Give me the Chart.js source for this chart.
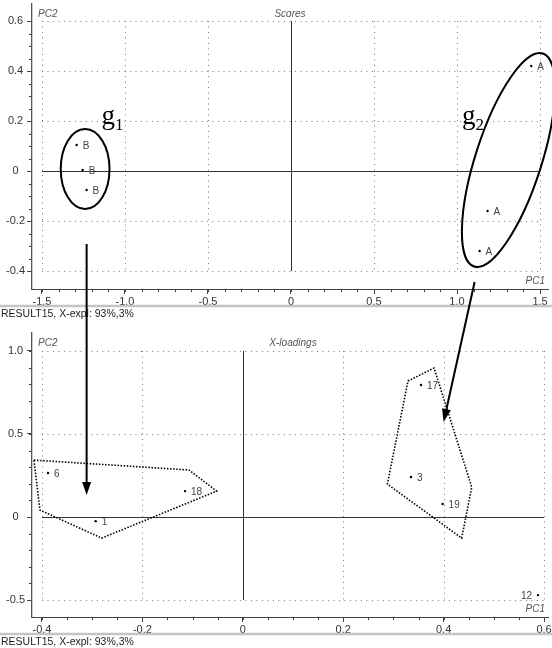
<!DOCTYPE html>
<html>
<head>
<meta charset="utf-8">
<script src="https://cdn.jsdelivr.net/npm/chart.js@4.4.0/dist/chart.umd.min.js"></script>
<style>
  body { margin: 0; background: #fff; }
  #wrap { position: relative; width: 552px; height: 648px; }
  #wrap canvas { position: absolute; left: 0; }
  #scores { top: 0; }
  #loadings { top: 320px; }
  #overlay { top: 0; pointer-events: none; }
</style>
</head>
<body>
<div id="wrap">
  <canvas id="scores" width="552" height="320"></canvas>
  <canvas id="loadings" width="552" height="328"></canvas>
  <canvas id="overlay" width="552" height="648"></canvas>
</div>
<script>
// scores plot
var scoreLabels = ["B", "B", "B", "A", "A", "A"];
var scorePC1 = [-1.291, -1.255, -1.231, 1.447, 1.184, 1.136];
var scorePC2 = [0.104, 0.004, -0.076, 0.42, -0.16, -0.32];
var scoreXTicks = [-1.5, -1.0, -0.5, 0, 0.5, 1.0, 1.5];
var scoreYTicks = [-0.4, -0.2, 0, 0.2, 0.4, 0.6];

// x-loadings plot
var loadLabels = ["6", "1", "18", "17", "3", "19", "12"];
var loadPC1 = [-0.388, -0.293, -0.115, 0.355, 0.335, 0.398, 0.588];
var loadPC2 = [0.265, -0.025, 0.156, 0.795, 0.241, 0.078, -0.47];
var loadXTicks = [-0.4, -0.2, 0, 0.2, 0.4, 0.6];
var loadYTicks = [-0.5, 0, 0.5, 1.0];

var footer = "RESULT15, X-expl: 93%,3%";

// annotations (data coordinates of the panel they belong to)
var group1 = { center: [-1.24, 0.008], end: [-1.24, 0.168], ratio: 0.61 };
var group2 = { center: [1.31, 0.044], end: [1.517, 0.47], ratio: 0.295 };
var hull1 = [[-0.416, 0.343], [-0.107, 0.283], [-0.052, 0.156], [-0.281, -0.127], [-0.404, 0.042]];
var hull2 = [[0.329, 0.819], [0.381, 0.897], [0.456, 0.18], [0.436, -0.127], [0.288, 0.198]];
var arrows = [
  { from: [-1.231, -0.292], to: [-0.311, 0.132] },
  { from: [1.106, -0.444], to: [0.4, 0.572] }
];

var FONT = "Liberation Sans, Arial, sans-serif";

function fmt(v) {
  return v === 0 ? "0" : v.toFixed(1);
}

var framePlugin = {
  id: "frame",
  beforeDatasetsDraw: function (chart, args, o) {
    var ctx = chart.ctx, sx = chart.scales.x, sy = chart.scales.y, a = chart.chartArea;
    var xl = sx.getPixelForValue(o.xTicks[0]), xr = sx.getPixelForValue(o.xTicks[o.xTicks.length - 1]);
    var yb = sy.getPixelForValue(o.yTicks[0]), yt = sy.getPixelForValue(o.yTicks[o.yTicks.length - 1]);
    ctx.save();
    ctx.lineWidth = 1;
    o.xTicks.forEach(function (v) {
      var p = Math.round(sx.getPixelForValue(v)) + 0.5;
      ctx.strokeStyle = v === 0 ? "#333" : "#777";
      ctx.setLineDash(v === 0 ? [] : [1, 4.5]);
      ctx.beginPath(); ctx.moveTo(p, yt); ctx.lineTo(p, yb); ctx.stroke();
    });
    o.yTicks.forEach(function (v) {
      var p = Math.round(sy.getPixelForValue(v)) + 0.5;
      ctx.strokeStyle = v === 0 ? "#333" : "#777";
      ctx.setLineDash(v === 0 ? [] : [1, 4.5]);
      ctx.beginPath(); ctx.moveTo(xl, p); ctx.lineTo(xr, p); ctx.stroke();
    });
    ctx.setLineDash([]);
    // minor ticks
    ctx.strokeStyle = "#444";
    var v, p;
    for (v = o.xTicks[0]; v <= o.xTicks[o.xTicks.length - 1] + 1e-9; v += o.minorX) {
      p = Math.round(sx.getPixelForValue(v)) + 0.5;
      ctx.beginPath(); ctx.moveTo(p, a.bottom); ctx.lineTo(p, a.bottom + 3); ctx.stroke();
    }
    for (v = o.yTicks[0]; v <= o.yTicks[o.yTicks.length - 1] + 1e-9; v += o.minorY) {
      p = Math.round(sy.getPixelForValue(v)) + 0.5;
      ctx.beginPath(); ctx.moveTo(a.left, p); ctx.lineTo(a.left - 3, p); ctx.stroke();
    }
    // footer
    ctx.strokeStyle = "#c4c4c4";
    ctx.lineWidth = 2.5;
    ctx.beginPath(); ctx.moveTo(0, a.bottom + 17); ctx.lineTo(chart.width, a.bottom + 17); ctx.stroke();
    ctx.fillStyle = "#222";
    ctx.font = "10.5px " + FONT;
    ctx.textBaseline = "middle";
    ctx.textAlign = "left";
    ctx.fillText(footer, 1, a.bottom + 25);
    // titles
    ctx.fillStyle = "#555";
    ctx.font = "italic 10px " + FONT;
    ctx.fillText("PC2", a.left + 6, o.titleY);
    ctx.textAlign = "center";
    ctx.fillText(o.title, (a.left + a.right) / 2 + o.titleDx, o.titleY);
    ctx.textAlign = "right";
    ctx.fillText("PC1", a.right - 3, a.bottom - 8);
    ctx.restore();
  },
  afterDatasetsDraw: function (chart, args, o) {
    var ctx = chart.ctx, meta = chart.getDatasetMeta(0);
    ctx.save();
    ctx.fillStyle = "#444";
    ctx.font = "10px " + FONT;
    ctx.textBaseline = "middle";
    meta.data.forEach(function (pt, i) {
      var lab = o.labels[i];
      var left = o.leftLabels.indexOf(lab) >= 0;
      ctx.textAlign = left ? "right" : "left";
      ctx.fillText(lab, pt.x + (left ? -6 : 6), pt.y + 1);
    });
    ctx.restore();
  }
};

function makeChart(id, xs, ys, labels, xTicks, yTicks, xr, yr, minorX, minorY, title, titleY, titleDx, padTop) {
  var pts = xs.map(function (x, i) { return { x: x, y: ys[i] }; });
  return new Chart(document.getElementById(id), {
    type: "scatter",
    data: {
      datasets: [{
        data: pts,
        pointRadius: 1.2,
        pointBackgroundColor: "#000",
        pointBorderWidth: 0
      }]
    },
    options: {
      responsive: false,
      animation: false,
      events: [],
      devicePixelRatio: 1,
      layout: { padding: { top: padTop, right: 0, left: 0, bottom: 0 } },
      plugins: {
        legend: { display: false },
        tooltip: { enabled: false },
        frame: {
          xTicks: xTicks, yTicks: yTicks, minorX: minorX, minorY: minorY,
          title: title, titleY: titleY, titleDx: titleDx,
          labels: labels, leftLabels: ["12"]
        }
      },
      scales: {
        x: {
          type: "linear", min: xr[0], max: xr[1],
          afterBuildTicks: function (s) { s.ticks = xTicks.map(function (v) { return { value: v }; }); },
          afterFit: function (s) { s.height = 31; s.paddingLeft = 0; s.paddingRight = 0; },
          grid: { drawOnChartArea: false, drawTicks: true, tickLength: 5, color: "#444" },
          border: { display: true, color: "#444", width: 1 },
          ticks: { callback: fmt, autoSkip: false, maxRotation: 0, padding: 1, color: "#333",
                   font: { family: FONT, size: 11 } }
        },
        y: {
          type: "linear", min: yr[0], max: yr[1],
          afterBuildTicks: function (s) { s.ticks = yTicks.map(function (v) { return { value: v }; }); },
          afterFit: function (s) { s.width = 32; s.paddingTop = 0; s.paddingBottom = 0; },
          grid: { drawOnChartArea: false, drawTicks: true, tickLength: 5, color: "#444" },
          border: { display: true, color: "#555", width: 1.3 },
          ticks: { callback: fmt, autoSkip: false, crossAlign: "center", padding: 2, color: "#333",
                   font: { family: FONT, size: 11 } }
        }
      }
    },
    plugins: [framePlugin]
  });
}

var scoresChart = makeChart("scores", scorePC1, scorePC2, scoreLabels, scoreXTicks, scoreYTicks,
  [-1.56, 1.548], [-0.472, 0.668], 0.1, 0.05, "Scores", 14, 0, 4);
var loadChart = makeChart("loadings", loadPC1, loadPC2, loadLabels, loadXTicks, loadYTicks,
  [-0.4198, 0.6079], [-0.602, 1.108], 0.05, 0.1, "X-loadings", 23, 3, 13);

// overlay: group ellipses, hulls, arrows, labels
function px(chart, off, p) {
  return [chart.scales.x.getPixelForValue(p[0]), chart.scales.y.getPixelForValue(p[1]) + off];
}

var ov = document.getElementById("overlay").getContext("2d");
ov.strokeStyle = "#000";
ov.fillStyle = "#000";

[group1, group2].forEach(function (g) {
  var c = px(scoresChart, 0, g.center), e = px(scoresChart, 0, g.end);
  var r = Math.hypot(e[0] - c[0], e[1] - c[1]);
  var ang = Math.atan2(e[1] - c[1], e[0] - c[0]);
  ov.lineWidth = 2;
  ov.beginPath();
  ov.ellipse(c[0], c[1], r, r * g.ratio, ang, 0, Math.PI * 2);
  ov.stroke();
});

[hull1, hull2].forEach(function (h) {
  ov.save();
  ov.lineWidth = 1.6;
  ov.setLineDash([1.5, 1.6]);
  ov.beginPath();
  h.forEach(function (p, i) {
    var q = px(loadChart, 320, p);
    if (i === 0) ov.moveTo(q[0], q[1]); else ov.lineTo(q[0], q[1]);
  });
  ov.closePath();
  ov.stroke();
  ov.restore();
});

arrows.forEach(function (ar) {
  var s = px(scoresChart, 0, ar.from), t = px(loadChart, 320, ar.to);
  var ang = Math.atan2(t[1] - s[1], t[0] - s[0]);
  var len = 13, hw = 4.5;
  var bx = t[0] - len * Math.cos(ang), by = t[1] - len * Math.sin(ang);
  ov.lineWidth = 2;
  ov.beginPath(); ov.moveTo(s[0], s[1]); ov.lineTo(bx, by); ov.stroke();
  ov.beginPath();
  ov.moveTo(t[0], t[1]);
  ov.lineTo(bx + hw * Math.sin(ang), by - hw * Math.cos(ang));
  ov.lineTo(bx - hw * Math.sin(ang), by + hw * Math.cos(ang));
  ov.closePath();
  ov.fill();
});

// group names
[[[-1.141, 0.188], "1"], [[1.03, 0.188], "2"]].forEach(function (g) {
  var p = px(scoresChart, 0, g[0]);
  ov.textBaseline = "alphabetic";
  ov.textAlign = "left";
  ov.font = "27px Liberation Serif, Times New Roman, serif";
  ov.fillText("g", p[0], p[1]);
  var w = ov.measureText("g").width;
  ov.font = "17px Liberation Serif, Times New Roman, serif";
  ov.fillText(g[1], p[0] + w, p[1] + 6);
});
</script>
</body>
</html>
